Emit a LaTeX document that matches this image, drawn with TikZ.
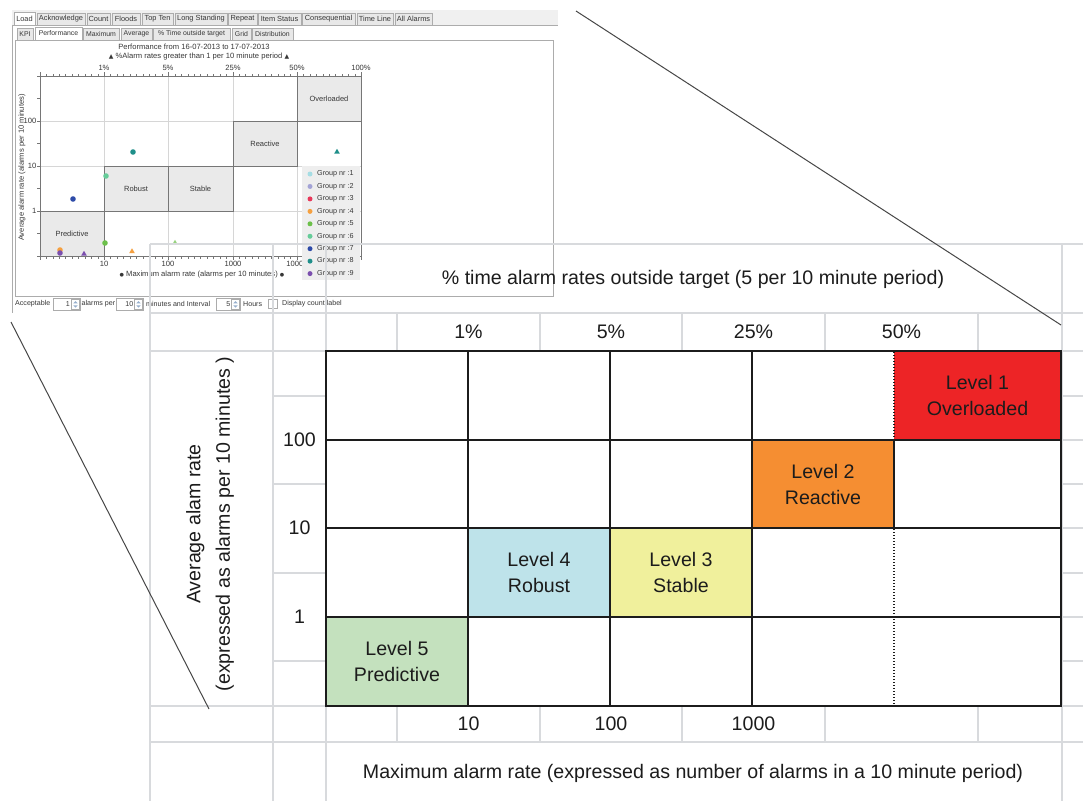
\documentclass[tikz,border=0pt]{standalone}
\usepackage{fontspec}
\setmainfont{Liberation Sans}
\newfontfamily\symfont{DejaVu Sans}
\usetikzlibrary{shapes.geometric}
% sheet and level colours
\definecolor{sheetgrid}{RGB}{216,218,221}
\definecolor{inkdark}{RGB}{28,28,28}
\definecolor{lvred}{RGB}{237,36,38}
\definecolor{lvorange}{RGB}{245,142,50}
\definecolor{lvblue}{RGB}{190,227,234}
\definecolor{lvyellow}{RGB}{240,240,156}
\definecolor{lvgreen}{RGB}{196,225,190}
% application window colours
\definecolor{uiline}{RGB}{172,172,172}
\definecolor{uitab}{RGB}{232,232,232}
\definecolor{uibar}{RGB}{240,240,240}
\definecolor{uitext}{RGB}{55,55,55}
\definecolor{zonefill}{RGB}{234,234,234}
\definecolor{zoneedge}{RGB}{118,118,118}
\definecolor{plotgrid}{RGB}{214,214,214}
\definecolor{legendbg}{RGB}{238,238,238}
\definecolor{spinblue}{RGB}{150,175,205}
% group colours
\definecolor{gA}{RGB}{166,221,228}
\definecolor{gB}{RGB}{163,163,214}
\definecolor{gC}{RGB}{232,56,90}
\definecolor{gD}{RGB}{245,160,64}
\definecolor{gE}{RGB}{108,192,74}
\definecolor{gF}{RGB}{102,204,153}
\definecolor{gG}{RGB}{46,75,168}
\definecolor{gH}{RGB}{31,143,138}
\definecolor{gI}{RGB}{123,79,174}
\begin{document}
\begin{tikzpicture}[x=1pt,y=-1pt,
  big/.style={font=\fontsize{19.6}{26}\selectfont, text=inkdark, inner sep=0pt},
  small/.style={font=\fontsize{7.6}{9}\selectfont, text=uitext, inner sep=0pt},
  ctrl/.style={font=\fontsize{7.1}{9}\selectfont, text=uitext, inner sep=0pt},
  sheetline/.style={draw=sheetgrid, line width=1.4pt},
  gridline/.style={draw=inkdark, line width=1.3pt},
  dotline/.style={draw=inkdark, line width=1.1pt, dash pattern=on 1.4pt off 1.6pt},
  levelcell/.style={inner sep=0pt, align=center, font=\fontsize{19.6}{26}\selectfont, text=inkdark},
  zone/.style={draw=zoneedge, fill=zonefill, line width=0.9pt, inner sep=0pt, font=\fontsize{7.5}{9}\selectfont, text=uitext},
  dot/.style={circle, inner sep=0pt, minimum size=5.6pt},
  tri/.style={regular polygon, regular polygon sides=3, inner sep=0pt, minimum size=6.5pt},
  tabbox/.style={draw=uiline, fill=uitab, line width=0.6pt, inner sep=0pt, font=\fontsize{7.4}{8}\selectfont, text=uitext},
  subtabbox/.style={draw=uiline, fill=uitab, line width=0.6pt, inner sep=0pt, font=\fontsize{6.9}{8}\selectfont, text=uitext},
  spinbox/.style={draw=uiline, fill=white, line width=0.6pt},
  axisline/.style={draw=zoneedge, line width=0.9pt},
  zoomline/.style={draw=black!72, line width=1pt}
]
\useasboundingbox[fill=white] (0,0) rectangle (1083,801);

%% ---------- application window ----------
% tab bar
\fill[uibar] (12,10) rectangle (558,25);
\draw[uiline, line width=0.8pt] (12,25.3) -- (558,25.3);
\draw[uiline, line width=0.8pt] (12.5,25) -- (12.5,313);
\foreach \a/\b/\t [count=\k] in {14/35/Load,37/85/Acknowledge,87/110/Count,112/140/Floods,142/173/Top Ten,175/227/Long Standing,228/257/Repeat,258/301/Item Status,302/355/Consequential,357/393/Time Line,395/432/All Alarms}
  \node[tabbox, minimum width={(\b-\a)*1pt}, minimum height=12pt] (tab\k) at ({(\a+\b)/2},19) {\t};
\node[tabbox, fill=white, minimum width=21pt, minimum height=13pt] (tabload) at (24.5,18.5) {Load};
% sub tabs
\foreach \a/\b/\t [count=\k] in {17/33/KPI,35/82/Performance,83/119/Maximum,121/152/Average,153/230/\% Time outside target,232/251/Grid,252/293/Distribution}
  \node[subtabbox, minimum width={(\b-\a)*1pt}, minimum height=12pt] (sub\k) at ({(\a+\b)/2},34) {\t};
% chart panel
\draw[uiline, fill=white, line width=0.8pt] (15,40) rectangle (553,296);
\node[subtabbox, fill=white, minimum width=47pt, minimum height=13pt] (subperf) at (58.5,33.5) {Performance};

% chart titles
\node[small] (ctitle) at (194,47) {Performance from 16-07-2013 to 17-07-2013};
\node[small] (csub) at (199,57) {{\symfont\fontsize{6}{8}\selectfont▲} \%Alarm rates greater than 1 per 10 minute period {\symfont\fontsize{6}{8}\selectfont▲}};

% plot grid
\foreach \xx in {104,168,233,297} \draw[plotgrid, line width=0.8pt] (\xx,76) -- (\xx,256);
\foreach \yy in {121,166,211} \draw[plotgrid, line width=0.8pt] (40,\yy) -- (361,\yy);

% performance zones
\node[zone, minimum width=64pt, minimum height=45pt] (zpred) at (72,233.5) {Predictive};
\node[zone, minimum width=64pt, minimum height=45pt] (zrob) at (136,188.5) {Robust};
\node[zone, minimum width=65pt, minimum height=45pt] (zsta) at (200.5,188.5) {Stable};
\node[zone, minimum width=64pt, minimum height=45pt] (zrea) at (265,143.5) {Reactive};
\node[zone, minimum width=64pt, minimum height=45pt] (zovl) at (329,98.5) {Overloaded};

% axes and ticks
\draw[axisline] (40,76) -- (362,76);
\draw[axisline] (40,256) -- (362,256);
\draw[axisline] (40,76) -- (40,258);
\draw[axisline] (361.5,76) -- (361.5,258);
\foreach \i in {0,...,50} {
  \draw[zoneedge, line width=0.6pt] ({40+\i*6.43},76) -- ++(0,-2.5);
  \draw[zoneedge, line width=0.6pt] ({40+\i*6.43},256) -- ++(0,2.5);
}
\foreach \xx in {40,104,168,233,297,361} {
  \draw[zoneedge, line width=0.8pt] (\xx,76) -- ++(0,-4);
  \draw[zoneedge, line width=0.8pt] (\xx,256) -- ++(0,4);
}
\foreach \yy in {76,98.5,121,143.5,166,188.5,211,233.5,256}
  \draw[zoneedge, line width=0.8pt] (40,\yy) -- ++(-3.5,0);

% axis labels
\foreach \xx/\t [count=\k] in {104/1\%,168/5\%,233/25\%,297/50\%,361/100\%}
  \node[small] (top\k) at (\xx,68) {\t};
\node[small, anchor=east] (left1) at (36.5,121) {100};
\node[small, anchor=east] (left2) at (36.5,166) {10};
\node[small, anchor=east] (left3) at (36.5,211) {1};
\foreach \xx/\t [count=\k] in {104/10,168/100,233/1000,297/10000}
  \node[small] (bot\k) at (\xx,263.5) {\t};
\node[small] (xlab) at (202,275) {{\symfont\fontsize{5}{6}\selectfont●} Maximum alarm rate (alarms per 10 minutes) {\symfont\fontsize{5}{6}\selectfont●}};
\node[small, rotate=90] (ylab) at (22,167.5) {Average alarm rate (alarms per 10 minutes)};

% measured points
\node[dot, fill=gH] (p1) at (133,152) {};
\node[dot, fill=gF] (p2) at (106,176) {};
\node[dot, fill=gG] (p3) at (73,199) {};
\node[dot, fill=gE] (p4) at (105,243) {};
\node[dot, fill=gD] (p5) at (60,250) {};
\node[dot, fill=gI] (p6) at (60,253) {};
\node[tri, fill=gI] (t1) at (84,254) {};
\node[tri, fill=gD] (t2) at (132,251.5) {};
\node[tri, fill=gE!70] (t3) at (175,243) {};
\node[tri, fill=gH] (t4) at (337,152) {};

% legend
\fill[legendbg] (302,166) rectangle (360,279.5);
\foreach \c [count=\k] in {gA,gB,gC,gD,gE,gF,gG,gH,gI} {
  \node[dot, fill=\c, minimum size=5pt] (ld\k) at (310,{174+(\k-1)*12.45}) {};
  \node[small, anchor=west, font=\fontsize{7.2}{8}\selectfont] (lt\k) at (317,{174+(\k-1)*12.45}) {Group nr :\k};
}

% controls under the chart
\node[ctrl, anchor=west] (cacc) at (15,304) {Acceptable};
\draw[spinbox] (53,298.5) rectangle (80,310);
\node[ctrl, anchor=east] (cv1) at (70,304) {1};
\draw[spinbox] (116,298.5) rectangle (143,310);
\node[ctrl, anchor=east] (cv2) at (133.5,304) {10};
\draw[spinbox] (216,298.5) rectangle (240,310);
\node[ctrl, anchor=east] (cv3) at (230.5,304) {5};
\foreach \sx in {75.5,138.5,235.5} {
  \draw[uiline, line width=0.4pt, fill=white] (\sx-4,299.5) rectangle (\sx+4,309);
  \fill[spinblue] (\sx-2.2,303.3) -- (\sx+2.2,303.3) -- (\sx,301) -- cycle;
  \fill[spinblue] (\sx-2.2,305.3) -- (\sx+2.2,305.3) -- (\sx,307.6) -- cycle;
}
\node[ctrl, anchor=west] (cper) at (81.5,304) {alarms per};
\node[ctrl, anchor=west] (cmin) at (146,304) {minutes and Interval};
\node[ctrl, anchor=west] (chrs) at (243,304) {Hours};
\draw[spinbox] (268,299.5) rectangle (277,308.5);
\node[ctrl, anchor=west] (cdisp) at (282,304) {Display count label};

%% ---------- sheet ruling ----------
\foreach \yy in {244,313,351,706,742} \draw[sheetline] (150,\yy) -- (1083,\yy);
\foreach \yy in {396,440,484,528,573,617,661} \draw[sheetline] (1062,\yy) -- (1083,\yy);
\foreach \yy in {396,484,573,661} \draw[sheetline] (273,\yy) -- (326,\yy);
\foreach \xx in {150,273,326,1062} \draw[sheetline] (\xx,244) -- (\xx,801);
\foreach \xx in {397,540,682,825,978} {
  \draw[sheetline] (\xx,313) -- (\xx,351);
  \draw[sheetline] (\xx,706) -- (\xx,742);
}

%% ---------- maturity grid ----------
\node[levelcell, fill=lvred, minimum width=167pt, minimum height=89pt] (lvone) at (977.5,395.5) {Level 1\\Overloaded};
\node[levelcell, fill=lvorange, minimum width=142pt, minimum height=88pt] (lvtwo) at (823,484) {Level 2\\Reactive};
\node[levelcell, fill=lvyellow, minimum width=142pt, minimum height=89pt] (lvthree) at (681,572.5) {Level 3\\Stable};
\node[levelcell, fill=lvblue, minimum width=142pt, minimum height=89pt] (lvfour) at (539,572.5) {Level 4\\Robust};
\node[levelcell, fill=lvgreen, minimum width=142pt, minimum height=89pt] (lvfive) at (397,661.5) {Level 5\\Predictive};

\draw[gridline] (326,351) rectangle (1061,706);
\foreach \yy in {440,528,617} \draw[gridline] (326,\yy) -- (1061,\yy);
\foreach \xx in {468,610,752} \draw[gridline] (\xx,351) -- (\xx,706);
\draw[gridline] (894,440) -- (894,528);
\draw[dotline] (894,352) -- (894,439);
\draw[dotline] (894,529) -- (894,705);

% axis texts of the grid
\node[big] (toptitle) at (693,279) {\% time alarm rates outside target (5 per 10 minute period)};
\node[big] (h1) at (468.5,332) {1\%};
\node[big] (h2) at (611,332) {5\%};
\node[big] (h3) at (753.5,332) {25\%};
\node[big] (h4) at (901.5,332) {50\%};
\node[big] (v1) at (299.5,440) {100};
\node[big] (v2) at (299.5,528) {10};
\node[big] (v3) at (299.5,617) {1};
\node[big] (b1) at (468.5,724) {10};
\node[big] (b2) at (611,724) {100};
\node[big] (b3) at (753.5,724) {1000};
\node[big] (bottitle) at (693,773) {Maximum alarm rate (expressed as number of alarms in a 10 minute period)};
\node[big, rotate=90, align=center, font=\fontsize{19.6}{29.5}\selectfont] (sidetitle) at (210,524) {Average alam rate\\(expressed as alarms per 10 minutes )};

%% ---------- magnification lines ----------
\coordinate (zAa) at (576,11);
\coordinate (zAb) at (1061,325);
\coordinate (zBa) at (11,322);
\coordinate (zBb) at (209,709);
\draw[zoomline] (zAa) -- (zAb);
\draw[zoomline] (zBa) -- (zBb);
\end{tikzpicture}
\end{document}
